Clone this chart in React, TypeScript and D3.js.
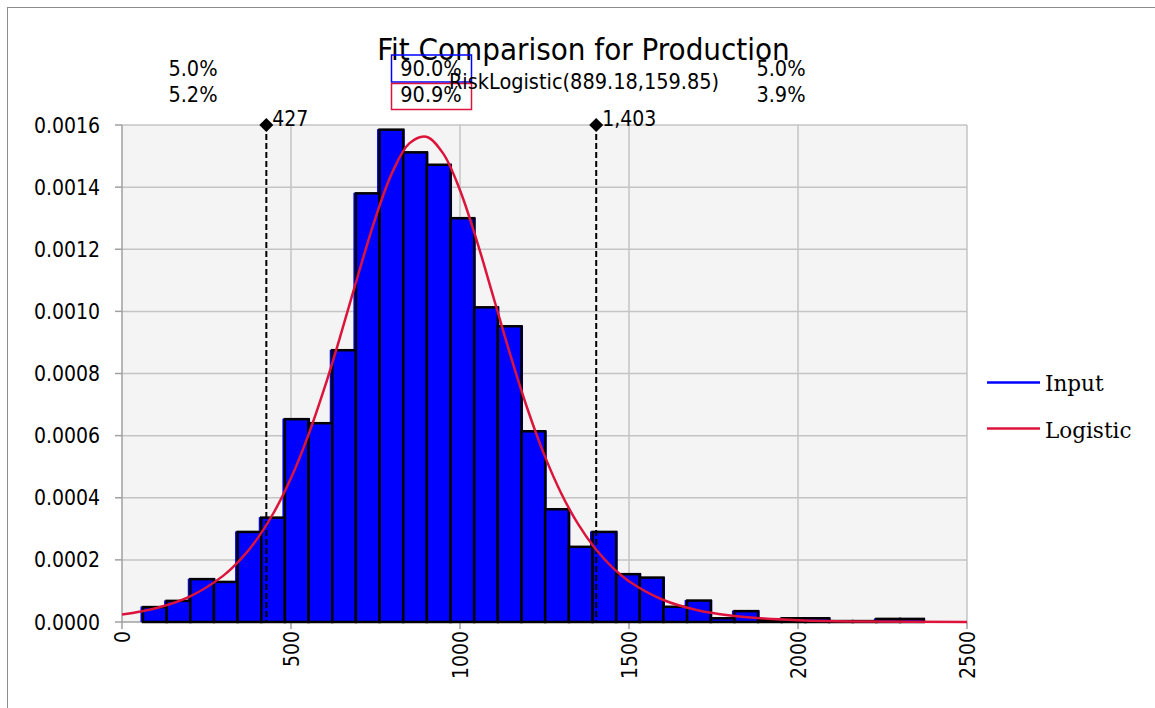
import React from "react";
import * as d3 from "d3";

// ---- data ----
const binLeft = [62, 132, 202, 272, 342, 412, 482, 552, 622, 692, 762, 832, 902, 972, 1042, 1112, 1182, 1252, 1322, 1392, 1462, 1532, 1602, 1672, 1742, 1812, 1882, 1952, 2022, 2092, 2162, 2232, 2302];
const binWidth = 70;
const inputDensity = [0.000048, 0.000068, 0.000138, 0.000129, 0.00029, 0.000336, 0.000653, 0.00064, 0.000875, 0.00138, 0.001585, 0.001512, 0.001472, 0.0013, 0.001013, 0.000952, 0.000614, 0.000363, 0.000242, 0.00029, 0.000154, 0.000143, 0.000049, 0.000069, 0.000012, 0.000035, 0.000006, 0.000012, 0.000012, 0.000003, 0.000003, 0.00001, 0.00001];

const curveX = [0, 100, 200, 300, 350, 400, 450, 500, 550, 600, 650, 700, 750, 800, 850, 900, 950, 1000, 1050, 1100, 1150, 1200, 1250, 1300, 1350, 1400, 1450, 1500, 1600, 1700, 1800, 1900, 2000, 2200, 2500];
const curveY = [0.0000238, 0.0000443, 0.0000817, 0.0001493, 0.0002005, 0.0002676, 0.0003541, 0.0004634, 0.0005977, 0.0007566, 0.0009353, 0.0011227, 0.0013013, 0.0014483, 0.0015407, 0.0015622, 0.0015087, 0.0013901, 0.0012265, 0.0010415, 0.000856, 0.000685, 0.0005365, 0.0004131, 0.000314, 0.0002364, 0.0001766, 0.0001312, 0.0000716, 0.0000387, 0.0000208, 0.0000112, 0.000006, 0.0000017, 0.0000003];

const xTicks = [0, 500, 1000, 1500, 2000, 2500];
const yTicks = [0, 0.0002, 0.0004, 0.0006, 0.0008, 0.001, 0.0012, 0.0014, 0.0016];

const markerValues = [427, 1403];
const markerLabels = ["427", "1,403"];
const leftPct = ["5.0%", "5.2%"];
const centerPct = ["90.0%", "90.9%"];
const rightPct = ["5.0%", "3.9%"];
const titleText = "Fit Comparison for Production";
const fitLabel = "RiskLogistic(889.18,159.85)";
const legendNames = ["Input", "Logistic"];

const BLUE = "#0000ff";
const RED = "#dc143c";
const SANS = "'DejaVu Sans Condensed', 'Liberation Sans', Arial, sans-serif";
const SERIF = "'DejaVu Serif', 'Liberation Serif', serif";

export default function App() {
  const x = d3.scaleLinear().domain([0, 2500]).range([122, 967]);
  const y = d3.scaleLinear().domain([0, 0.0016]).range([622, 125]);
  const [x0, x1] = x.range();
  const [yb, yt] = y.range();

  const line = d3
    .line<number>()
    .x((_, i) => x(curveX[i]))
    .y((d) => y(d))
    .curve(d3.curveCatmullRom);

  const fmtY = d3.format(".4f");
  const legendColors = [BLUE, RED];
  const pctCenters = [193, 431, 781];

  return (
    <svg
      width={1155}
      height={708}
      style={{ position: "absolute", left: 0, top: 0, background: "#fff" }}
    >
      {/* frame */}
      <rect x={7.5} y={7.5} width={1300} height={900} fill="none" stroke="#8c8c8c" strokeWidth={1} />

      {/* plot background */}
      <rect x={x0} y={yt} width={x1 - x0} height={yb - yt} fill="#f4f4f4" />

      {/* gridlines */}
      {yTicks.slice(1).map((t) => (
        <line key={"gy" + t} x1={x0} x2={x1} y1={y(t)} y2={y(t)} stroke="#c4c4c4" strokeWidth={1.5} />
      ))}
      {xTicks.slice(1).map((t) => (
        <line key={"gx" + t} x1={x(t)} x2={x(t)} y1={yt} y2={yb} stroke="#c4c4c4" strokeWidth={1.5} />
      ))}

      {/* axes */}
      <line x1={x0} x2={x0} y1={yt} y2={yb} stroke="#a0a0a0" strokeWidth={1.5} />
      <line x1={x0} x2={x1} y1={yb} y2={yb} stroke="#a0a0a0" strokeWidth={1.5} />
      {yTicks.map((t) => (
        <line key={"ty" + t} x1={x0 - 7} x2={x0} y1={y(t)} y2={y(t)} stroke="#a0a0a0" strokeWidth={1.5} />
      ))}
      {xTicks.map((t) => (
        <line key={"tx" + t} x1={x(t)} x2={x(t)} y1={yb} y2={yb + 7} stroke="#a0a0a0" strokeWidth={1.5} />
      ))}

      {/* y labels */}
      {yTicks.map((t) => (
        <text
          key={"ly" + t}
          x={100}
          y={y(t)}
          dy="0.36em"
          textAnchor="end"
          fontFamily={SANS}
          fontSize={21}
          fill="#000"
        >
          {fmtY(t)}
        </text>
      ))}

      {/* x labels */}
      {xTicks.map((t) => (
        <text
          key={"lx" + t}
          transform={`translate(${x(t)},${yb + 9}) rotate(-90)`}
          dy="0.36em"
          textAnchor="end"
          fontFamily={SANS}
          fontSize={21}
          fill="#000"
        >
          {t}
        </text>
      ))}

      {/* histogram fill (blue shadow) */}
      {inputDensity.map((d, i) => (
        <rect
          key={"bf" + i}
          x={x(binLeft[i]) - 2.5}
          y={y(d) - 0.5}
          width={x(binLeft[i] + binWidth) - x(binLeft[i]) + 4}
          height={yb - y(d) + 0.5}
          fill={BLUE}
        />
      ))}
      {/* histogram outlines */}
      {inputDensity.map((d, i) => (
        <rect
          key={"bo" + i}
          x={x(binLeft[i])}
          y={y(d)}
          width={x(binLeft[i] + binWidth) - x(binLeft[i])}
          height={yb - y(d)}
          fill={BLUE}
          stroke="#000"
          strokeWidth={2.5}
        />
      ))}

      {/* dashed marker lines */}
      {markerValues.map((v) => (
        <line
          key={"ml" + v}
          x1={x(v)}
          x2={x(v)}
          y1={yt}
          y2={yb}
          stroke="#000"
          strokeWidth={2}
          strokeDasharray="6,3"
        />
      ))}

      {/* logistic curve */}
      <path d={line(curveY) || ""} fill="none" stroke={RED} strokeWidth={2.5} />

      {/* marker diamonds + labels */}
      {markerValues.map((v, i) => (
        <g key={"md" + v}>
          <path
            d={`M${x(v)},${yt - 7}L${x(v) + 7},${yt}L${x(v)},${yt + 7}L${x(v) - 7},${yt}Z`}
            fill="#000"
          />
          <text x={x(v) + 6} y={yt + 1} fontFamily={SANS} fontSize={21} fill="#000">
            {markerLabels[i]}
          </text>
        </g>
      ))}

      {/* title */}
      <text x={583.5} y={60} textAnchor="middle" fontFamily={SANS} fontSize={31} fill="#000">
        {titleText}
      </text>

      {/* percent labels */}
      {[leftPct, centerPct, rightPct].map((arr, c) =>
        arr.map((s, r) => (
          <text
            key={"p" + c + r}
            x={pctCenters[c]}
            y={76 + r * 26}
            textAnchor="middle"
            fontFamily={SANS}
            fontSize={21.5}
            fill="#000"
          >
            {s}
          </text>
        ))
      )}
      <rect x={391.5} y={55} width={80} height={27} fill="none" stroke={BLUE} strokeWidth={1.5} />
      <rect x={391.5} y={83.5} width={80} height={26} fill="none" stroke={RED} strokeWidth={1.5} />

      {/* fit label */}
      <text x={584} y={88.5} textAnchor="middle" fontFamily={SANS} fontSize={21.5} fill="#000">
        {fitLabel}
      </text>

      {/* legend */}
      {legendNames.map((n, i) => (
        <g key={"lg" + n}>
          <line x1={987} x2={1040} y1={382.5 + i * 46} y2={382.5 + i * 46} stroke={legendColors[i]} strokeWidth={2.5} />
          <text x={1045} y={390.5 + i * 47.5} fontFamily={SERIF} fontSize={21.5} fill="#000">
            {n}
          </text>
        </g>
      ))}
    </svg>
  );
}
